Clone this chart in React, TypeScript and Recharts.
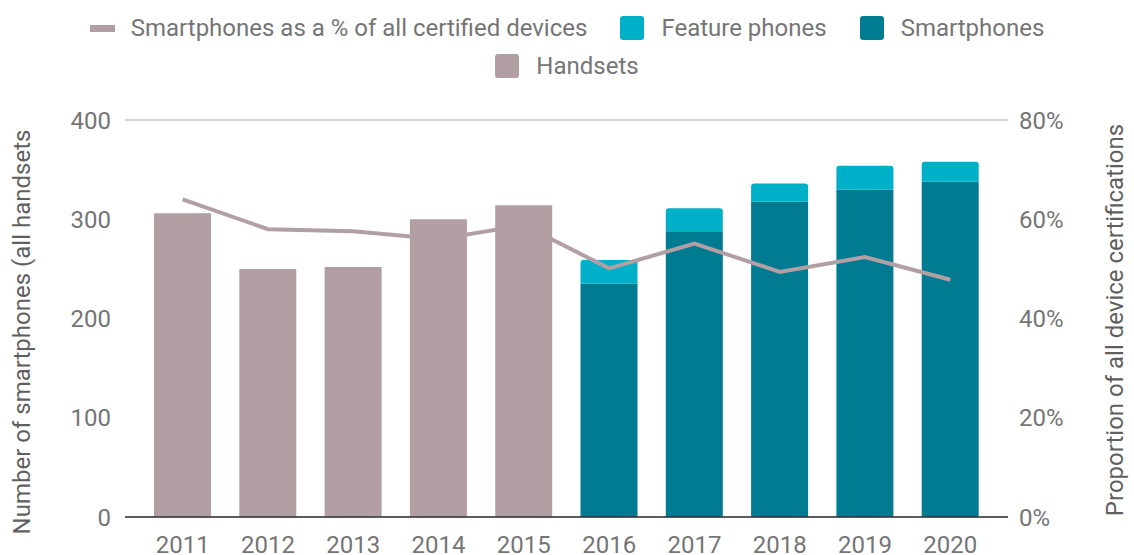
import { ComposedChart, Bar, Line, XAxis, YAxis, CartesianGrid, Label } from 'recharts';

const years = ['2011', '2012', '2013', '2014', '2015', '2016', '2017', '2018', '2019', '2020'];
const handsets = [306, 250, 252, 300, 314, null, null, null, null, null];
const smartphones = [null, null, null, null, null, 235, 288, 318, 330, 338];
const featurePhones = [null, null, null, null, null, 24, 23, 18, 24, 20];
const smartShare = [64, 58, 57.6, 56, 58.8, 50.1, 55.1, 49.4, 52.4, 47.8];

const leftTicks = [0, 100, 200, 300, 400];
const rightTicks = [0, 20, 40, 60, 80];

const leftTitle = 'Number of smartphones (all handsets';
const rightTitle = 'Proportion of all device certifications';

const COLORS = {
  handsets: '#b19fa3',
  feature: '#00b0c9',
  smart: '#007b91',
  line: '#b19fa3',
  text: '#757575',
};

const legendItems = [
  { name: 'Smartphones as a % of all certified devices', color: COLORS.line, kind: 'line' },
  { name: 'Feature phones', color: COLORS.feature, kind: 'box' },
  { name: 'Smartphones', color: COLORS.smart, kind: 'box' },
  { name: 'Handsets', color: COLORS.handsets, kind: 'box' },
];

const data = years.map((year, i) => ({
  year,
  handsets: handsets[i],
  smartphones: smartphones[i],
  feature: featurePhones[i],
  share: smartShare[i],
}));

const FONT = 'Roboto, "Noto Sans", sans-serif';
const tickStyle = { fontSize: 24, fill: COLORS.text, fontFamily: FONT };

function AxisTitle({ x, y, text }: { x: number; y: number; text: string }) {
  return (
    <text
      x={x}
      y={y}
      transform={`rotate(-90 ${x} ${y})`}
      textAnchor="middle"
      dominantBaseline="central"
      fontSize={24}
      fontFamily={FONT}
      fill="#5f5f5f"
    >
      {text}
    </text>
  );
}

function ChartLegend() {
  return (
    <div
      style={{
        position: 'absolute',
        top: 9,
        left: 0,
        right: 0,
        display: 'flex',
        justifyContent: 'center',
      }}
    >
      <div
        style={{
          maxWidth: 1000,
          display: 'flex',
          flexWrap: 'wrap',
          justifyContent: 'center',
          columnGap: 33,
          lineHeight: '38px',
          fontSize: 24,
          fontFamily: FONT,
          color: COLORS.text,
        }}
      >
        {legendItems.map((it) => (
          <div key={it.name} style={{ display: 'flex', alignItems: 'center', whiteSpace: 'nowrap' }}>
            {it.kind === 'line' ? (
              <span style={{ width: 25, height: 7, background: it.color, marginRight: 16 }} />
            ) : (
              <span style={{ width: 24, height: 24, borderRadius: 3, background: it.color, marginRight: 17 }} />
            )}
            <span>{it.name}</span>
          </div>
        ))}
      </div>
    </div>
  );
}

export default function App() {
  return (
    <div style={{ position: 'absolute', top: 0, left: 0, width: 1134, height: 555, background: '#fff' }}>
      <ComposedChart
        width={1134}
        height={555}
        data={data}
        margin={{ top: 120, right: 66, bottom: 8, left: 65 }}
        barSize={57}
      >
        <CartesianGrid vertical={false} stroke="#d6d6d6" strokeWidth={2} />
        <XAxis
          dataKey="year"
          height={30}
          padding={{ left: 15, right: 15 }}
          tickLine={false}
          tickSize={0}
          tickMargin={19}
          axisLine={{ stroke: '#333', strokeWidth: 1.5 }}
          tick={tickStyle}
          interval={0}
        />
        <YAxis
          yAxisId="left"
          width={60}
          domain={[0, 400]}
          ticks={leftTicks}
          tickLine={false}
          tickSize={0}
          tickMargin={14}
          axisLine={false}
          tick={tickStyle}
        >
          <Label content={() => <AxisTitle x={22} y={332} text={leftTitle} />} />
        </YAxis>
        <YAxis
          yAxisId="right"
          orientation="right"
          width={60}
          domain={[0, 80]}
          ticks={rightTicks}
          tickFormatter={(v) => `${v}%`}
          tickLine={false}
          tickSize={0}
          tickMargin={11}
          axisLine={false}
          tick={tickStyle}
        >
          <Label content={() => <AxisTitle x={1115} y={320} text={rightTitle} />} />
        </YAxis>
        <Bar yAxisId="left" dataKey="smartphones" name="Smartphones" stackId="a" fill={COLORS.smart} isAnimationActive={false} />
        <Bar yAxisId="left" dataKey="feature" name="Feature phones" stackId="a" fill={COLORS.feature} radius={[3, 3, 0, 0]} isAnimationActive={false} />
        <Line
          yAxisId="right"
          dataKey="share"
          name="Smartphones as a % of all certified devices"
          stroke={COLORS.line}
          strokeWidth={4}
          dot={false}
          activeDot={false}
          type="linear"
          isAnimationActive={false}
        />
        <Bar yAxisId="left" dataKey="handsets" name="Handsets" stackId="a" fill={COLORS.handsets} isAnimationActive={false} />
      </ComposedChart>
      <ChartLegend />
    </div>
  );
}
